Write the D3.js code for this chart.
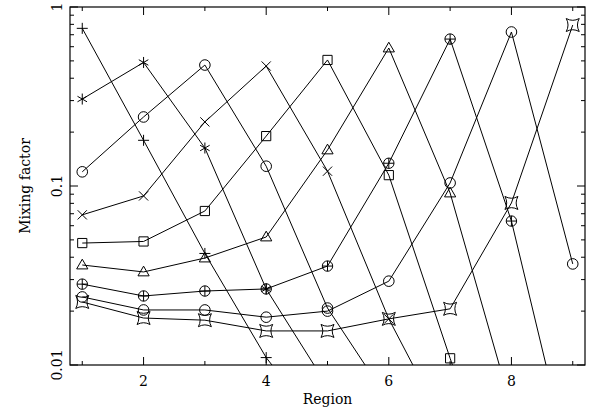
<!DOCTYPE html>
<html>
<head>
<meta charset="utf-8">
<script src="https://cdn.jsdelivr.net/npm/d3@7"></script>
<style>
  body { margin: 0; background: #fff; }
  text { font-family: "DejaVu Serif", serif; fill: #000; }
</style>
</head>
<body>
<div id="chart"></div>
<script>
// region numbers on the x axis
const regions = [1, 2, 3, 4, 5, 6, 7, 8, 9];
// mixing factor per region, one array per source region (null = not plotted)
const mixPlus     = [0.76, 0.18, 0.042, 0.011, 0.004, null, null, null, null];
const mixStar     = [0.306, 0.49, 0.163, 0.0266, 0.0076, null, null, null, null];
const mixCircle   = [0.12, 0.243, 0.474, 0.129, 0.0208, 0.0063, null, null, null];
const mixCross    = [0.069, 0.088, 0.228, 0.468, 0.121, 0.0181, 0.004, null, null];
const mixSquare   = [0.048, 0.049, 0.0725, 0.19, 0.506, 0.115, 0.0109, 0.0011, null];
const mixTriangle = [0.0362, 0.0331, 0.0396, 0.0519, 0.159, 0.59, 0.0914, 0.0058, null];
const mixOplus    = [0.0283, 0.0243, 0.0259, 0.0266, 0.0357, 0.134, 0.662, 0.0637, 0.0024];
const mixOdot     = [0.024, 0.0203, 0.0203, 0.0185, 0.02, 0.0294, 0.104, 0.725, 0.0367];
const mixConcave  = [0.0225, 0.0183, 0.0178, 0.0155, 0.0155, 0.0181, 0.0206, 0.0804, 0.793];

const xTicks = [1, 2, 3, 4, 5, 6, 7, 8, 9];
const yMajor = [0.01, 0.1, 1];
const yLabels = ["0.01", "0.1", "1"];

const series = [
  { values: mixPlus, marker: "plus" },
  { values: mixStar, marker: "star" },
  { values: mixCircle, marker: "circle" },
  { values: mixCross, marker: "cross" },
  { values: mixSquare, marker: "square" },
  { values: mixTriangle, marker: "triangle" },
  { values: mixOplus, marker: "oplus" },
  { values: mixOdot, marker: "odot" },
  { values: mixConcave, marker: "concave" }
];

const width = 589;
const height = 414;
const margin = { left: 70, right: 4, top: 7, bottom: 49 };

const svg = d3.select("#chart").append("svg").attr("width", width).attr("height", height);

const x = d3.scaleLinear().domain([0.8, 9.2]).range([margin.left, width - margin.right]);
const y = d3.scaleLog().domain([0.01, 1]).range([height - margin.bottom, margin.top]);

const x0 = x.range()[0], x1 = x.range()[1];
const y0 = y.range()[0], y1 = y.range()[1];

svg.append("clipPath").attr("id", "plot-clip")
  .append("rect").attr("x", x0).attr("y", y1).attr("width", x1 - x0).attr("height", y0 - y1);

// minor log ticks 2..9 in each decade
const yMinor = [];
[0.01, 0.1].forEach((d) => { for (let k = 2; k <= 9; k++) yMinor.push(+(d * k).toPrecision(3)); });

const ticks = svg.append("g").attr("stroke", "#000").attr("stroke-width", 1);

// x ticks, bottom and top, pointing inward
xTicks.forEach((t) => {
  const len = t % 2 === 0 ? 8 : 4;
  ticks.append("line").attr("x1", x(t)).attr("x2", x(t)).attr("y1", y0).attr("y2", y0 - len);
  ticks.append("line").attr("x1", x(t)).attr("x2", x(t)).attr("y1", y1).attr("y2", y1 + len);
});

// y ticks, left and right
yMajor.concat(yMinor).forEach((t) => {
  const len = yMajor.includes(t) ? 8 : 4;
  ticks.append("line").attr("x1", x0).attr("x2", x0 + len).attr("y1", y(t)).attr("y2", y(t));
  ticks.append("line").attr("x1", x1).attr("x2", x1 - len).attr("y1", y(t)).attr("y2", y(t));
});

// frame
svg.append("rect")
  .attr("x", x0).attr("y", y1).attr("width", x1 - x0).attr("height", y0 - y1)
  .attr("fill", "none").attr("stroke", "#000").attr("stroke-width", 1.2);

// tick labels
svg.append("g").selectAll("text")
  .data(xTicks.filter((t) => t % 2 === 0))
  .enter().append("text")
  .attr("x", (d) => x(d)).attr("y", y0 + 21)
  .attr("text-anchor", "middle").attr("font-size", 14)
  .text((d) => d);

svg.append("g").selectAll("text")
  .data(yMajor)
  .enter().append("text")
  .attr("transform", (d) => `translate(62,${y(d)}) rotate(-90)`)
  .attr("text-anchor", "middle").attr("font-size", 14)
  .text((d, i) => yLabels[i]);

// axis titles
svg.append("text")
  .attr("x", (x0 + x1) / 2).attr("y", 404)
  .attr("text-anchor", "middle").attr("font-size", 14)
  .text("Region");

svg.append("text")
  .attr("transform", `translate(30,${(y0 + y1) / 2}) rotate(-90)`)
  .attr("text-anchor", "middle").attr("font-size", 14)
  .text("Mixing factor");

// lines
const line = d3.line()
  .defined((d) => d.v != null)
  .x((d) => x(d.r))
  .y((d) => y(d.v));

const plot = svg.append("g").attr("clip-path", "url(#plot-clip)");

series.forEach((s) => {
  const pts = regions.map((r, i) => ({ r: r, v: s.values[i] }));
  plot.append("path")
    .datum(pts)
    .attr("d", line)
    .attr("fill", "none")
    .attr("stroke", "#000")
    .attr("stroke-width", 1);
});

// marker shapes
function markerPath(type) {
  const p = d3.path();
  if (type === "plus") {
    p.moveTo(-5.5, 0); p.lineTo(5.5, 0); p.moveTo(0, -5.5); p.lineTo(0, 5.5);
  } else if (type === "star") {
    const r = 5.5;
    for (let a = 90; a < 270; a += 60) {
      const rad = (a * Math.PI) / 180;
      p.moveTo(r * Math.cos(rad), r * Math.sin(rad));
      p.lineTo(-r * Math.cos(rad), -r * Math.sin(rad));
    }
  } else if (type === "circle" || type === "odot") {
    p.moveTo(5.3, 0); p.arc(0, 0, 5.3, 0, 2 * Math.PI);
  } else if (type === "cross") {
    const r = 4.6;
    p.moveTo(-r, -r); p.lineTo(r, r); p.moveTo(-r, r); p.lineTo(r, -r);
  } else if (type === "square") {
    p.rect(-4.6, -4.6, 9.2, 9.2);
  } else if (type === "triangle") {
    p.moveTo(0, -5.8); p.lineTo(5.6, 3.9); p.lineTo(-5.6, 3.9); p.closePath();
  } else if (type === "oplus") {
    p.moveTo(5.2, 0); p.arc(0, 0, 5.2, 0, 2 * Math.PI);
    p.moveTo(-5.2, 0); p.lineTo(5.2, 0); p.moveTo(0, -5.2); p.lineTo(0, 5.2);
  } else if (type === "concave") {
    const s = 6.5, k = 0.45 * s;
    p.moveTo(-s, -s);
    p.quadraticCurveTo(0, -k, s, -s);
    p.quadraticCurveTo(k, 0, s, s);
    p.quadraticCurveTo(0, k, -s, s);
    p.quadraticCurveTo(-k, 0, -s, -s);
    p.closePath();
  }
  return p.toString();
}

series.forEach((s) => {
  const pts = regions
    .map((r, i) => ({ r: r, v: s.values[i] }))
    .filter((d) => d.v != null && d.v >= 0.01);
  svg.append("g").selectAll("path")
    .data(pts)
    .enter().append("path")
    .attr("transform", (d) => `translate(${x(d.r)},${y(d.v)})`)
    .attr("d", markerPath(s.marker))
    .attr("fill", "none")
    .attr("stroke", "#000")
    .attr("stroke-width", 1);
});
</script>
</body>
</html>
